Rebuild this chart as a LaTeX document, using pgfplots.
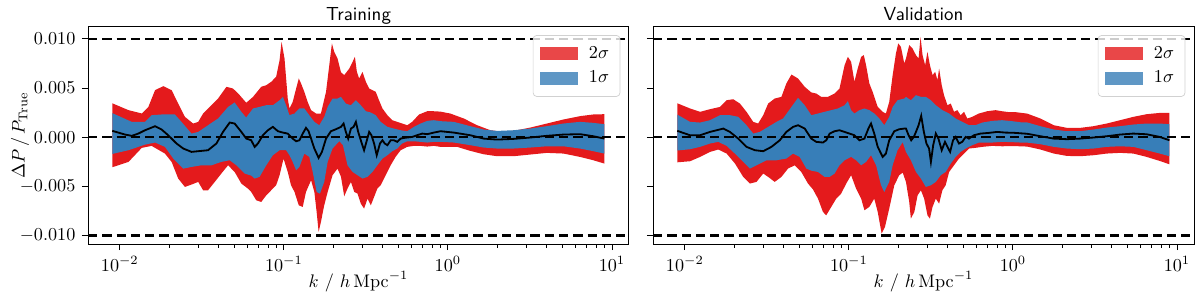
\documentclass[border=0pt]{standalone}
\usepackage{pgfplots}
\usepackage{pgfplotstable}
\usepgfplotslibrary{fillbetween}
\pgfplotsset{compat=1.18}
\definecolor{sred}{RGB}{228,26,28}
\definecolor{sblue}{RGB}{55,126,184}

% ---------- Training (left) : lk = log10(k), v in units of 1e-3 ----------
\pgfplotstableread{
lk v
-2.046 3.45
-1.947 2.75
-1.866 2.41
-1.826 3.08
-1.785 4.78
-1.735 5.19
-1.684 4.78
-1.644 3.42
-1.603 2.07
-1.553 1.39
-1.522 1.56
-1.492 2.41
-1.441 3.25
-1.401 3.93
-1.350 5.12
-1.310 4.95
-1.269 4.27
-1.229 3.50
-1.188 4.10
-1.138 5.12
-1.107 5.29
-1.077 5.63
-1.047 6.14
-1.026 7.83
-1.014 9.70
-0.996 8.00
-0.976 3.93
-0.966 2.92
-0.946 3.59
-0.925 4.95
-0.909 5.97
-0.895 5.46
-0.875 4.61
-0.855 3.59
-0.834 2.75
-0.804 2.41
-0.774 2.41
-0.743 4.61
-0.723 7.32
-0.707 9.53
-0.693 8.68
-0.673 8.00
-0.652 6.60
-0.632 6.31
-0.601 6.98
-0.581 7.66
-0.567 8.17
-0.555 6.64
-0.541 5.97
-0.521 6.64
-0.500 5.63
-0.480 4.95
-0.460 4.78
-0.440 4.61
-0.420 3.76
-0.399 2.92
-0.369 2.24
-0.339 1.73
-0.309 1.56
-0.279 1.39
-0.248 1.22
-0.218 1.56
-0.176 2.31
-0.126 2.64
-0.086 2.64
-0.045 2.60
0.016 2.40
0.097 1.90
0.178 1.22
0.259 0.71
0.340 0.54
0.421 0.71
0.502 0.98
0.603 1.39
0.704 1.80
0.805 2.14
0.886 2.31
0.954 2.34
}\ruA
\pgfplotstableread{
lk v
-2.046 2.45
-1.927 1.56
-1.846 1.56
-1.806 2.24
-1.745 2.31
-1.664 2.31
-1.624 1.56
-1.563 0.37
-1.522 0.54
-1.462 1.22
-1.401 1.90
-1.340 3.08
-1.300 3.53
-1.259 2.58
-1.230 2.00
-1.188 2.92
-1.148 3.08
-1.107 3.25
-1.067 3.25
-1.026 3.76
-1.006 4.10
-0.986 3.25
-0.966 2.24
-0.935 2.41
-0.905 2.92
-0.875 2.92
-0.845 2.24
-0.814 1.56
-0.784 1.22
-0.754 2.07
-0.733 3.08
-0.703 3.93
-0.673 3.93
-0.652 4.10
-0.622 3.42
-0.591 3.25
-0.561 3.76
-0.531 3.25
-0.500 2.64
-0.470 2.51
-0.440 2.24
-0.410 1.56
-0.369 1.05
-0.329 0.88
-0.288 0.71
-0.248 0.61
-0.207 1.05
-0.167 1.39
-0.126 1.66
-0.086 1.73
-0.045 1.63
0.036 1.56
0.137 1.12
0.218 0.78
0.299 0.64
0.400 0.71
0.502 0.88
0.603 1.12
0.704 1.39
0.805 1.56
0.886 1.46
0.954 1.32
}\buA
\pgfplotstableread{
lk v
-2.046 0.65
-1.968 0.27
-1.927 0.14
-1.887 0.37
-1.846 0.71
-1.785 1.12
-1.745 0.78
-1.705 0.20
-1.654 -0.64
-1.613 -1.15
-1.563 -1.49
-1.522 -1.42
-1.462 -1.32
-1.411 -0.64
-1.371 0.54
-1.330 1.49
-1.300 1.39
-1.259 0.54
-1.229 -0.14
-1.199 -0.31
-1.178 -0.98
-1.158 -0.64
-1.128 0.20
-1.097 0.71
-1.067 1.05
-1.036 0.61
-1.006 0.47
-0.976 0.37
-0.946 -0.14
-0.925 -0.41
-0.905 -0.31
-0.885 0.37
-0.865 0.95
-0.849 0.61
-0.834 -0.14
-0.814 -1.15
-0.788 -2.10
-0.768 -1.49
-0.743 -0.14
-0.713 0.61
-0.683 0.81
-0.652 1.05
-0.636 1.39
-0.622 0.54
-0.608 -0.14
-0.591 0.88
-0.575 1.05
-0.561 1.56
-0.547 0.54
-0.531 -0.31
-0.511 -1.32
-0.494 -0.31
-0.480 0.54
-0.466 0.20
-0.450 -0.64
-0.434 -1.83
-0.414 -0.64
-0.399 -0.31
-0.385 -0.64
-0.369 -0.81
-0.349 -0.31
-0.329 -0.31
-0.309 -0.47
-0.288 -0.14
-0.268 -0.07
-0.248 -0.03
-0.218 0.03
-0.188 0.20
-0.157 0.37
-0.126 0.31
-0.086 0.47
-0.045 0.61
0.036 0.47
0.137 0.20
0.218 -0.14
0.299 -0.24
0.400 -0.17
0.502 -0.03
0.603 0.14
0.704 0.27
0.805 0.31
0.886 0.10
0.954 -0.14
}\mA
\pgfplotstableread{
lk v
-2.046 -1.70
-1.947 -1.32
-1.846 -0.75
-1.785 -0.54
-1.725 -0.98
-1.674 -2.17
-1.613 -3.19
-1.563 -3.02
-1.502 -2.85
-1.441 -2.85
-1.381 -2.51
-1.330 -2.34
-1.290 -2.85
-1.239 -3.69
-1.199 -3.90
-1.178 -4.20
-1.148 -4.03
-1.107 -2.85
-1.067 -1.83
-1.026 -1.32
-0.986 -1.32
-0.966 -1.83
-0.946 -2.51
-0.925 -3.36
-0.905 -3.02
-0.875 -1.66
-0.845 -2.00
-0.824 -3.53
-0.800 -5.56
-0.780 -5.73
-0.754 -4.54
-0.733 -2.51
-0.703 -1.15
-0.662 -0.40
-0.640 -0.80
-0.612 -2.85
-0.581 -3.53
-0.551 -3.86
-0.521 -4.20
-0.490 -4.03
-0.460 -3.53
-0.430 -2.85
-0.399 -2.17
-0.369 -1.83
-0.339 -1.42
-0.309 -1.15
-0.279 -0.64
-0.248 -0.41
-0.207 -0.41
-0.167 -0.47
-0.126 -0.54
-0.086 -0.47
-0.045 -0.47
0.036 -0.54
0.137 -0.81
0.218 -1.05
0.299 -1.15
0.400 -1.15
0.502 -1.05
0.603 -0.92
0.704 -0.92
0.805 -1.15
0.886 -1.42
0.954 -1.66
}\blA
\pgfplotstableread{
lk v
-2.046 -3.05
-1.947 -2.51
-1.866 -1.08
-1.806 -0.88
-1.725 -1.66
-1.684 -2.51
-1.644 -4.20
-1.603 -5.05
-1.563 -4.81
-1.522 -4.54
-1.492 -5.39
-1.462 -5.39
-1.421 -4.54
-1.381 -3.69
-1.340 -2.85
-1.300 -3.53
-1.259 -4.71
-1.219 -5.22
-1.199 -5.56
-1.168 -6.41
-1.138 -6.58
-1.107 -5.90
-1.077 -5.39
-1.047 -4.88
-1.026 -3.86
-1.002 -2.17
-0.976 -3.53
-0.956 -4.88
-0.935 -5.56
-0.909 -6.92
-0.885 -7.08
-0.865 -5.56
-0.834 -4.37
-0.814 -5.56
-0.800 -7.59
-0.788 -9.63
-0.774 -8.61
-0.754 -6.92
-0.733 -5.56
-0.703 -3.86
-0.673 -3.19
-0.652 -4.00
-0.632 -6.00
-0.612 -5.22
-0.591 -4.54
-0.571 -5.56
-0.551 -5.73
-0.531 -6.75
-0.511 -7.25
-0.490 -6.24
-0.470 -6.92
-0.450 -6.07
-0.430 -5.22
-0.410 -4.88
-0.379 -3.86
-0.349 -2.85
-0.319 -2.00
-0.288 -1.32
-0.248 -0.98
-0.207 -0.88
-0.167 -0.88
-0.126 -0.95
-0.086 -0.88
-0.045 -0.98
0.056 -0.98
0.137 -1.39
0.218 -1.73
0.299 -1.93
0.400 -1.93
0.502 -1.76
0.603 -1.59
0.704 -1.66
0.805 -2.00
0.886 -2.34
0.954 -2.68
}\rlA

% ---------- Validation (right) ----------
\pgfplotstableread{
lk v
-2.046 3.45
-1.968 2.92
-1.907 2.58
-1.846 2.85
-1.785 3.08
-1.745 3.76
-1.705 3.86
-1.664 3.42
-1.624 2.58
-1.583 1.56
-1.553 1.39
-1.522 2.24
-1.492 3.42
-1.452 3.93
-1.411 4.10
-1.381 5.46
-1.350 6.37
-1.310 5.97
-1.269 5.12
-1.229 4.55
-1.199 4.44
-1.168 4.10
-1.128 4.10
-1.087 4.44
-1.057 4.95
-1.026 7.32
-1.006 8.17
-0.986 7.66
-0.966 5.63
-0.946 6.98
-0.925 8.17
-0.909 8.34
-0.895 7.32
-0.875 5.46
-0.855 4.61
-0.824 3.08
-0.794 2.58
-0.774 2.41
-0.754 3.59
-0.733 6.31
-0.713 8.51
-0.699 9.53
-0.683 9.19
-0.662 7.49
-0.652 8.00
-0.632 9.36
-0.612 9.02
-0.591 8.34
-0.575 8.00
-0.563 10.20
-0.551 8.34
-0.535 7.32
-0.521 8.68
-0.506 7.32
-0.490 6.31
-0.474 6.64
-0.460 5.80
-0.450 6.98
-0.434 5.29
-0.420 4.27
-0.399 3.25
-0.379 3.42
-0.359 2.58
-0.339 2.75
-0.319 2.24
-0.298 2.58
-0.278 1.90
-0.248 2.07
-0.207 2.41
-0.157 2.64
-0.106 2.75
-0.066 2.64
-0.025 2.55
0.015 2.55
0.087 2.40
0.168 1.90
0.249 1.22
0.329 0.95
0.410 0.95
0.491 1.12
0.572 1.39
0.653 1.73
0.734 2.07
0.815 2.34
0.895 2.47
0.954 2.47
}\ruB
\pgfplotstableread{
lk v
-2.046 2.30
-1.968 1.56
-1.907 1.49
-1.846 1.73
-1.785 2.24
-1.725 2.24
-1.674 2.07
-1.624 1.22
-1.583 0.37
-1.543 0.54
-1.492 1.05
-1.441 1.56
-1.401 1.90
-1.350 3.08
-1.310 4.00
-1.269 3.25
-1.229 2.24
-1.188 2.41
-1.148 2.58
-1.107 2.75
-1.067 2.92
-1.026 3.25
-1.006 3.66
-0.986 2.75
-0.966 2.41
-0.935 2.75
-0.905 2.92
-0.875 2.75
-0.845 2.41
-0.814 1.90
-0.784 1.22
-0.754 2.07
-0.733 3.08
-0.703 3.76
-0.662 3.93
-0.652 4.10
-0.622 3.76
-0.591 4.27
-0.561 4.10
-0.531 4.10
-0.500 3.76
-0.470 3.25
-0.430 2.75
-0.389 2.41
-0.349 1.90
-0.309 1.56
-0.268 1.22
-0.228 1.22
-0.187 1.49
-0.126 1.66
-0.066 1.73
-0.005 1.63
0.056 1.50
0.087 1.50
0.168 1.12
0.249 0.78
0.329 0.61
0.410 0.61
0.491 0.78
0.572 0.98
0.653 1.12
0.734 1.29
0.815 1.39
0.895 1.39
0.954 1.32
}\buB
\pgfplotstableread{
lk v
-2.046 0.65
-1.968 0.20
-1.907 0.20
-1.846 0.54
-1.806 0.71
-1.765 0.88
-1.725 0.54
-1.674 -0.14
-1.624 -0.98
-1.573 -1.32
-1.522 -1.42
-1.472 -0.98
-1.421 -0.31
-1.381 0.54
-1.340 1.05
-1.310 1.22
-1.269 0.88
-1.229 -0.14
-1.199 -0.47
-1.158 -0.54
-1.138 -0.31
-1.117 0.37
-1.087 0.61
-1.057 0.71
-1.026 0.54
-0.996 0.37
-0.966 0.20
-0.935 -0.31
-0.905 -0.14
-0.881 0.88
-0.865 1.39
-0.845 0.37
-0.824 -0.98
-0.794 -2.00
-0.774 -1.66
-0.754 -0.31
-0.723 0.61
-0.693 0.81
-0.662 0.88
-0.652 0.88
-0.636 0.20
-0.620 -0.31
-0.604 0.03
-0.591 0.54
-0.575 1.22
-0.559 2.17
-0.543 0.54
-0.527 -0.64
-0.511 -1.15
-0.500 -2.51
-0.486 -0.81
-0.470 0.37
-0.454 -0.14
-0.434 -1.32
-0.414 -0.47
-0.399 -0.98
-0.383 -1.49
-0.365 -0.31
-0.349 0.03
-0.329 -0.64
-0.309 -0.47
-0.288 0.03
-0.268 -0.14
-0.238 0.20
-0.197 0.37
-0.147 0.44
-0.096 0.54
-0.045 0.47
0.005 0.45
0.087 0.35
0.168 0.10
0.249 -0.14
0.329 -0.20
0.410 -0.14
0.491 -0.03
0.572 0.10
0.653 0.27
0.734 0.37
0.815 0.30
0.895 0.03
0.954 -0.31
}\mB
\pgfplotstableread{
lk v
-2.046 -1.35
-1.968 -1.22
-1.907 -0.98
-1.846 -0.64
-1.796 -0.47
-1.745 -0.88
-1.684 -1.83
-1.644 -2.51
-1.603 -3.19
-1.563 -2.85
-1.502 -2.34
-1.441 -2.34
-1.381 -2.17
-1.340 -1.66
-1.300 -2.00
-1.259 -3.19
-1.229 -3.40
-1.188 -3.53
-1.148 -4.03
-1.117 -4.03
-1.087 -3.69
-1.057 -2.85
-1.026 -2.34
-0.986 -2.00
-0.956 -2.34
-0.925 -2.85
-0.895 -2.51
-0.865 -1.83
-0.834 -2.85
-0.804 -4.88
-0.784 -5.56
-0.754 -4.54
-0.733 -2.85
-0.703 -1.32
-0.672 -0.50
-0.652 -1.49
-0.622 -2.34
-0.591 -3.53
-0.561 -4.20
-0.531 -5.05
-0.500 -4.88
-0.470 -4.54
-0.440 -3.86
-0.410 -3.53
-0.379 -2.68
-0.349 -2.00
-0.319 -1.49
-0.288 -1.15
-0.248 -0.81
-0.207 -0.54
-0.167 -0.54
-0.126 -0.54
-0.066 -0.47
-0.005 -0.50
0.056 -0.55
0.087 -0.55
0.168 -0.71
0.249 -0.98
0.329 -1.15
0.410 -1.22
0.491 -1.15
0.572 -0.98
0.653 -0.92
0.734 -0.98
0.815 -1.32
0.895 -1.66
0.954 -1.93
}\blB
\pgfplotstableread{
lk v
-2.046 -2.55
-1.968 -2.44
-1.907 -2.00
-1.846 -1.49
-1.796 -1.25
-1.745 -1.66
-1.694 -2.68
-1.644 -4.03
-1.603 -4.71
-1.563 -4.54
-1.522 -3.69
-1.492 -4.03
-1.452 -4.54
-1.411 -4.03
-1.371 -3.19
-1.330 -2.85
-1.290 -3.53
-1.249 -4.71
-1.219 -5.30
-1.188 -6.24
-1.158 -7.59
-1.138 -7.93
-1.107 -7.08
-1.077 -6.24
-1.047 -5.73
-1.016 -4.71
-0.986 -3.86
-0.956 -5.22
-0.925 -6.24
-0.905 -7.42
-0.875 -7.08
-0.845 -6.24
-0.824 -7.59
-0.800 -9.80
-0.780 -9.12
-0.754 -7.25
-0.723 -4.88
-0.693 -3.86
-0.672 -3.60
-0.652 -4.54
-0.632 -6.58
-0.622 -8.27
-0.601 -7.59
-0.581 -5.90
-0.561 -5.39
-0.541 -6.24
-0.521 -7.93
-0.506 -8.27
-0.490 -7.08
-0.470 -6.24
-0.450 -6.75
-0.430 -5.39
-0.410 -4.88
-0.389 -3.53
-0.359 -2.85
-0.329 -2.17
-0.298 -1.66
-0.268 -1.15
-0.228 -1.08
-0.187 -0.98
-0.126 -0.88
-0.066 -0.92
0.006 -0.90
0.087 -0.95
0.168 -1.25
0.249 -1.66
0.329 -1.90
0.410 -1.93
0.491 -1.83
0.572 -1.66
0.653 -1.59
0.734 -1.66
0.815 -2.00
0.895 -2.41
0.954 -2.75
}\rlB

\begin{document}
\begin{tikzpicture}

\begin{axis}[
    at={(0pt,0pt)}, anchor=south west,
    scale only axis, width=297.55pt, height=119.35pt,
    xmode=log, xmin=0.0064, xmax=12.7,
    ymin=-10.85, ymax=11.2,
    xtick={0.01,0.1,1,10},
    ytick={-10,-5,0,5,10},
    yticklabels={$-0.010$,$-0.005$,$0.000$,$0.005$,$0.010$},
    tick pos=left, tick align=outside,
    major tick length=3.4pt, minor tick length=2pt,
    tick style={black, line width=0.5pt},
    axis line style={line width=0.55pt},
    xlabel={$k\ /\ h\,\mathrm{Mpc}^{-1}$},
    xlabel style={at={(rel axis cs:0.5,0)}, anchor=center, yshift=-20.9pt},
    ylabel={$\Delta P\,/\,P_{\mathrm{True}}$},
    ylabel style={at={(rel axis cs:0,0.5)}, anchor=center, yshift=37.4pt},
    title={Training},
    title style={at={(rel axis cs:0.5,1)}, anchor=base, yshift=-2.4pt,
                 font=\sffamily\fontsize{10.4}{12}\selectfont},
    legend style={at={(rel axis cs:0.984,0.963)}, anchor=north east,
      draw=black!18, rounded corners=2pt, fill=white, fill opacity=0.8,
      text opacity=1, inner xsep=4pt, inner ysep=4pt, row sep=1.7pt,
      font=\fontsize{10}{12}\selectfont,
      /tikz/every odd column/.append style={column sep=4pt}},
    legend cell align=left]
\addplot[draw=none, forget plot, name path=ruA] table[x expr=10^(\thisrow{lk}), y=v] {\ruA};
\addplot[draw=none, forget plot, name path=rlA] table[x expr=10^(\thisrow{lk}), y=v] {\rlA};
\addplot[draw=none, forget plot, name path=buA] table[x expr=10^(\thisrow{lk}), y=v] {\buA};
\addplot[draw=none, forget plot, name path=blA] table[x expr=10^(\thisrow{lk}), y=v] {\blA};
\addplot[fill=sred, draw=none,
  legend image code/.code={\fill[sred, sharp corners] (0pt,-3.6pt) rectangle (20.7pt,3.6pt);}]
  fill between[of=ruA and rlA];
\addlegendentry{$2\sigma$}
\addplot[fill=sblue, draw=none,
  legend image code/.code={\fill[sblue, sharp corners] (0pt,-3.6pt) rectangle (20.7pt,3.6pt);}]
  fill between[of=buA and blA];
\addlegendentry{$1\sigma$}
\addplot[black, line width=1.0pt, forget plot] table[x expr=10^(\thisrow{lk}), y=v] {\mA};
\addplot[black, line width=1.3pt, dash pattern=on 5.1pt off 2.75pt, forget plot] coordinates {(0.0064,10) (12.7,10)};
\addplot[black, line width=1.3pt, dash pattern=on 5.1pt off 2.75pt, forget plot] coordinates {(0.0064,0) (12.7,0)};
\addplot[black, line width=1.3pt, dash pattern=on 5.1pt off 2.75pt, forget plot] coordinates {(0.0064,-10) (12.7,-10)};
\end{axis}

\begin{axis}[
    at={(310.75pt,0pt)}, anchor=south west,
    scale only axis, width=297.55pt, height=119.35pt,
    xmode=log, xmin=0.0064, xmax=12.7,
    ymin=-10.85, ymax=11.2,
    xtick={0.01,0.1,1,10},
    ytick={-10,-5,0,5,10},
    yticklabels={,,,,},
    tick pos=left, tick align=outside,
    major tick length=3.4pt, minor tick length=2pt,
    tick style={black, line width=0.5pt},
    axis line style={line width=0.55pt},
    xlabel={$k\ /\ h\,\mathrm{Mpc}^{-1}$},
    xlabel style={at={(rel axis cs:0.5,0)}, anchor=center, yshift=-20.9pt},
    title={Validation},
    title style={at={(rel axis cs:0.5,1)}, anchor=base, yshift=-2.4pt,
                 font=\sffamily\fontsize{10.4}{12}\selectfont},
    legend style={at={(rel axis cs:0.984,0.963)}, anchor=north east,
      draw=black!18, rounded corners=2pt, fill=white, fill opacity=0.8,
      text opacity=1, inner xsep=4pt, inner ysep=4pt, row sep=1.7pt,
      font=\fontsize{10}{12}\selectfont,
      /tikz/every odd column/.append style={column sep=4pt}},
    legend cell align=left]
\addplot[draw=none, forget plot, name path=ruB] table[x expr=10^(\thisrow{lk}), y=v] {\ruB};
\addplot[draw=none, forget plot, name path=rlB] table[x expr=10^(\thisrow{lk}), y=v] {\rlB};
\addplot[draw=none, forget plot, name path=buB] table[x expr=10^(\thisrow{lk}), y=v] {\buB};
\addplot[draw=none, forget plot, name path=blB] table[x expr=10^(\thisrow{lk}), y=v] {\blB};
\addplot[fill=sred, draw=none,
  legend image code/.code={\fill[sred, sharp corners] (0pt,-3.6pt) rectangle (20.7pt,3.6pt);}]
  fill between[of=ruB and rlB];
\addlegendentry{$2\sigma$}
\addplot[fill=sblue, draw=none,
  legend image code/.code={\fill[sblue, sharp corners] (0pt,-3.6pt) rectangle (20.7pt,3.6pt);}]
  fill between[of=buB and blB];
\addlegendentry{$1\sigma$}
\addplot[black, line width=1.0pt, forget plot] table[x expr=10^(\thisrow{lk}), y=v] {\mB};
\addplot[black, line width=1.3pt, dash pattern=on 5.1pt off 2.75pt, forget plot] coordinates {(0.0064,10) (12.7,10)};
\addplot[black, line width=1.3pt, dash pattern=on 5.1pt off 2.75pt, forget plot] coordinates {(0.0064,0) (12.7,0)};
\addplot[black, line width=1.3pt, dash pattern=on 5.1pt off 2.75pt, forget plot] coordinates {(0.0064,-10) (12.7,-10)};
\end{axis}

\pgfresetboundingbox
\path[use as bounding box] (-48.4pt,-29.15pt) rectangle (611.6pt,134.2pt);
\end{tikzpicture}
\end{document}
